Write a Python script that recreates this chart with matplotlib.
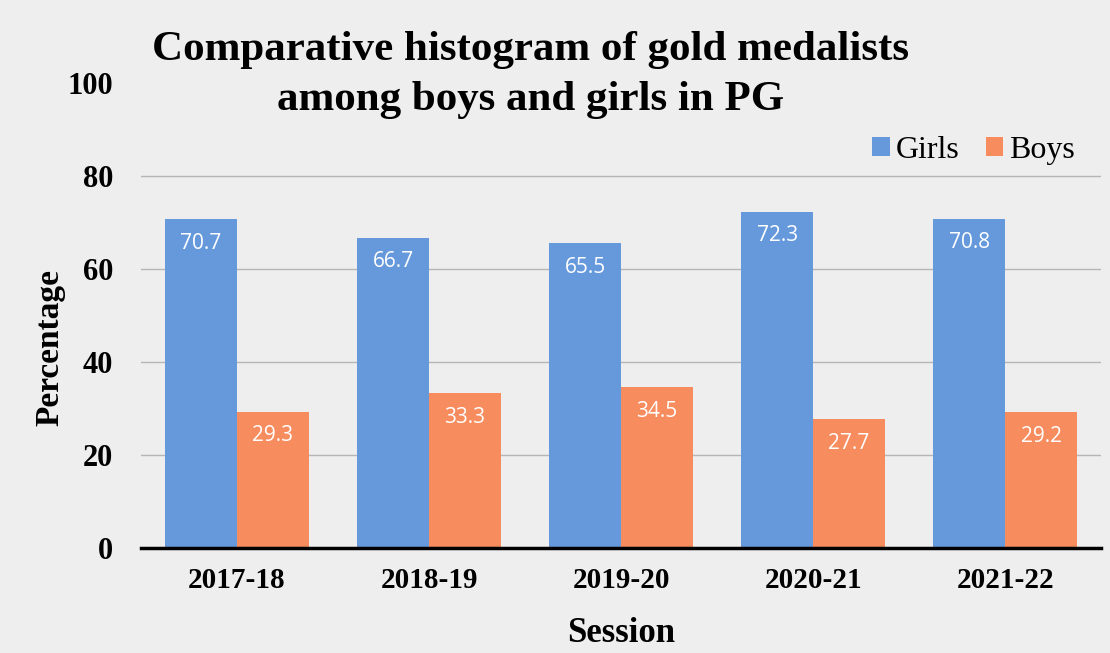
import numpy as np
import matplotlib.pyplot as plt

# Data
sessions = ['2017-18', '2018-19', '2019-20', '2020-21', '2021-22']
girls = [70.7, 66.7, 65.5, 72.3, 70.8]
boys = [29.3, 33.3, 34.5, 27.7, 29.2]

girls_color = '#6699dc'
boys_color = '#f78c5e'
bg = '#eeeeee'

plt.rcParams['font.family'] = ['Liberation Serif', 'DejaVu Serif']

fig = plt.figure(figsize=(11.1, 6.53), dpi=100, facecolor=bg)
ax = fig.add_axes([0.127, 0.161, 0.865, 0.712], facecolor=bg)

x = np.arange(len(sessions))
w = 0.375
b1 = ax.bar(x - w / 2, girls, w, color=girls_color, label='Girls', zorder=3)
b2 = ax.bar(x + w / 2, boys, w, color=boys_color, label='Boys', zorder=3)

# value labels inside the top of each bar
for bars, vals in ((b1, girls), (b2, boys)):
    for r, v in zip(bars, vals):
        ax.text(r.get_x() + r.get_width() / 2, v - 5.2, f'{v:.1f}',
                ha='center', va='center', color='white', fontsize=15,
                family=['Open Sans', 'DejaVu Sans'], zorder=4)

ax.set_xlim(-0.5, 4.5)
ax.set_ylim(0, 100)
ax.set_yticks([0, 20, 40, 60, 80, 100])
ax.set_xticks(x)
ax.set_xticklabels(sessions)
ax.tick_params(axis='both', length=0)
ax.tick_params(axis='y', pad=20, labelsize=22)
ax.tick_params(axis='x', pad=14, labelsize=21)
for lbl in ax.get_xticklabels() + ax.get_yticklabels():
    lbl.set_fontweight('bold')

# grid lines at 20..80 only (no line at the top)
for yv in [20, 40, 60, 80]:
    ax.axhline(yv, color='#b5b5b5', linewidth=1, zorder=0)
for s in ['top', 'right', 'left']:
    ax.spines[s].set_visible(False)
ax.spines['bottom'].set_linewidth(2.5)
ax.spines['bottom'].set_color('black')
ax.spines['bottom'].set_zorder(5)

ax.set_ylabel('Percentage', fontsize=24, fontweight='bold', va='center')
ax.yaxis.set_label_coords(-0.095, 0.43)
ax.set_xlabel('Session', fontsize=25, fontweight='bold', labelpad=16)

fig.text(0.478, 0.885, 'Comparative histogram of gold medalists\namong boys and girls in PG',
         ha='center', va='center', fontsize=31, fontweight='bold', linespacing=1.4)

ax.legend(loc='center right', bbox_to_anchor=(1.003, 0.855), frameon=False, fontsize=23,
          handlelength=0.55, handleheight=0.55, handletextpad=0.2, columnspacing=0.8, ncol=2)

fig.savefig('out.png', dpi=100, facecolor=bg)
